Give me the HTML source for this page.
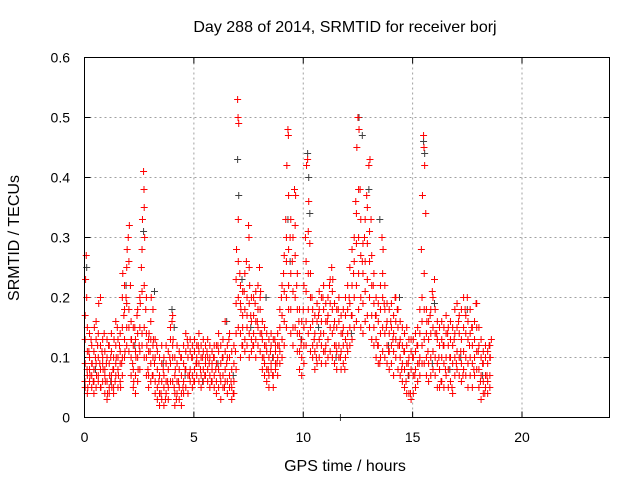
<!DOCTYPE html>
<html><head><meta charset="utf-8"><style>
body{margin:0;background:#fff;}
svg text{font-family:"Liberation Sans",sans-serif;font-size:14px;fill:#000;}
svg text.big{font-size:16px;}
</style></head><body>
<svg id="chart" width="640" height="480" xmlns="http://www.w3.org/2000/svg">
<rect width="640" height="480" fill="#fff"/>
<text class="big" x="345" y="32" text-anchor="middle">Day 288 of 2014, SRMTID for receiver borj</text>
<text class="big" x="345" y="471" text-anchor="middle">GPS time / hours</text>
<text class="big" transform="translate(19,238) rotate(-90)" text-anchor="middle">SRMTID / TECUs</text>
<g id="grid"></g>
<g id="ticks"></g>
<g id="gray"></g>
<g id="red"></g>
<rect x="84.5" y="57.5" width="525" height="360" fill="none" stroke="#000" stroke-width="1"/>
</svg>
<script>
const xTicks=[0,5,10,15,20];
const yTicks=[0,0.1,0.2,0.3,0.4,0.5,0.6];
const yTickLabels=["0","0.1","0.2","0.3","0.4","0.5","0.6"];
const redPts=[
[0.02,0.06],[0.05,0.23],[0.08,0.27],[0.1,0.2],[0.12,0.08],[0.15,0.05],[0.2,0.11],[0.25,0.07],[0.3,0.13],[0.35,0.09],[0.4,0.06],[0.45,0.15],[0.5,0.1],[0.55,0.07],[0.6,0.12],[0.65,0.19],[0.7,0.09],[0.75,0.05],[0.8,0.11],[0.85,0.08],[0.9,0.14],[0.95,0.06],[1.0,0.09],[1.05,0.04],[1.1,0.12],[1.15,0.07],[1.2,0.1],[1.25,0.05],[1.3,0.08],[1.35,0.13],[1.4,0.06],[1.45,0.1],[1.5,0.15],[1.55,0.07],[1.6,0.12],[1.65,0.05],[1.7,0.09],[1.75,0.24],[1.8,0.17],[1.85,0.11],[1.9,0.2],[1.95,0.28],[2.0,0.3],[2.05,0.32],[2.1,0.22],[2.15,0.13],[2.2,0.09],[2.25,0.06],[2.3,0.15],[2.35,0.1],[2.4,0.17],[2.45,0.08],[2.5,0.12],[2.55,0.19],[2.6,0.25],[2.65,0.33],[2.7,0.41],[2.72,0.38],[2.75,0.3],[2.8,0.18],[2.85,0.12],[2.9,0.08],[2.95,0.14],[3.0,0.11],[3.05,0.2],[3.1,0.07],[3.15,0.13],[3.2,0.09],[3.3,0.12],[3.4,0.06],[3.5,0.04],[3.6,0.08],[3.7,0.03],[3.8,0.06],[3.9,0.1],[4.0,0.16],[4.05,0.13],[4.1,0.05],[4.15,0.08],[4.2,0.03],[4.3,0.06],[4.4,0.1],[4.5,0.05],[4.6,0.08],[4.7,0.13],[4.8,0.07],[4.9,0.1],[5.0,0.06],[5.1,0.09],[5.2,0.12],[5.3,0.08],[5.4,0.1],[5.5,0.07],[5.6,0.11],[5.7,0.09],[5.8,0.06],[5.9,0.1],[6.0,0.08],[6.1,0.12],[6.2,0.07],[6.3,0.1],[6.4,0.05],[6.5,0.09],[6.6,0.13],[6.7,0.06],[6.8,0.04],[6.9,0.11],[6.95,0.28],[7.0,0.53],[7.02,0.5],[7.05,0.49],[7.1,0.24],[7.15,0.18],[7.2,0.12],[7.3,0.21],[7.4,0.26],[7.5,0.32],[7.52,0.3],[7.55,0.22],[7.6,0.17],[7.7,0.12],[7.8,0.19],[7.9,0.16],[8.0,0.25],[8.05,0.21],[8.1,0.14],[8.2,0.1],[8.3,0.12],[8.4,0.08],[8.5,0.11],[8.6,0.07],[8.7,0.13],[8.8,0.09],[8.9,0.12],[9.0,0.2],[9.1,0.24],[9.2,0.33],[9.25,0.42],[9.3,0.48],[9.32,0.47],[9.4,0.3],[9.5,0.26],[9.6,0.38],[9.65,0.37],[9.7,0.22],[9.8,0.16],[9.9,0.12],[10.0,0.18],[10.1,0.3],[10.15,0.42],[10.2,0.43],[10.25,0.36],[10.3,0.29],[10.4,0.2],[10.5,0.13],[10.6,0.1],[10.7,0.17],[10.8,0.14],[10.9,0.2],[11.0,0.11],[11.1,0.16],[11.2,0.22],[11.3,0.25],[11.35,0.23],[11.4,0.15],[11.5,0.12],[11.6,0.18],[11.7,0.1],[11.8,0.14],[11.9,0.08],[12.0,0.12],[12.1,0.2],[12.2,0.17],[12.3,0.24],[12.4,0.36],[12.45,0.45],[12.5,0.5],[12.55,0.48],[12.6,0.38],[12.7,0.26],[12.8,0.3],[12.9,0.37],[13.0,0.42],[13.05,0.43],[13.1,0.33],[13.2,0.22],[13.3,0.17],[13.4,0.12],[13.5,0.09],[13.6,0.3],[13.65,0.28],[13.7,0.19],[13.8,0.15],[13.9,0.11],[14.0,0.16],[14.1,0.13],[14.2,0.2],[14.3,0.18],[14.4,0.12],[14.5,0.08],[14.6,0.11],[14.7,0.06],[14.8,0.09],[14.9,0.04],[15.0,0.1],[15.1,0.07],[15.2,0.12],[15.3,0.09],[15.4,0.28],[15.45,0.37],[15.5,0.47],[15.52,0.45],[15.55,0.42],[15.6,0.34],[15.65,0.16],[15.7,0.11],[15.8,0.17],[15.9,0.21],[16.0,0.23],[16.1,0.14],[16.2,0.1],[16.3,0.06],[16.4,0.12],[16.5,0.08],[16.6,0.14],[16.7,0.1],[16.8,0.05],[16.9,0.13],[17.0,0.09],[17.1,0.16],[17.2,0.11],[17.3,0.07],[17.4,0.18],[17.5,0.2],[17.6,0.12],[17.7,0.15],[17.8,0.08],[17.9,0.19],[18.0,0.11],[18.1,0.06],[18.2,0.09],[18.3,0.04],[18.4,0.07],[18.5,0.12],[18.55,0.1],[18.6,0.13]
];
// dense clusters: [time, value, value, ...]
const redClusters=[
[0.03,0.05,0.09,0.13,0.17],[0.13,0.07,0.11,0.04,0.15],[0.23,0.06,0.1,0.08,0.14],[0.33,0.05,0.12,0.09,0.07],[0.43,0.08,0.04,0.11,0.06],[0.53,0.09,0.13,0.05,0.16],[0.63,0.07,0.1,0.14,0.06],[0.73,0.08,0.12,0.2,0.05],[0.83,0.06,0.1,0.13,0.09],[0.93,0.04,0.08,0.11,0.07],
[1.03,0.06,0.1,0.03,0.13],[1.13,0.05,0.09,0.12,0.04],[1.23,0.07,0.11,0.06,0.14],[1.33,0.04,0.08,0.1,0.05],[1.43,0.07,0.12,0.09,0.16],[1.53,0.05,0.1,0.13,0.08],[1.63,0.09,0.06,0.14,0.11],[1.73,0.1,0.15,0.07,0.2],[1.83,0.13,0.18,0.22,0.1],[1.93,0.15,0.12,0.25,0.19],
[2.03,0.18,0.26,0.15,0.11],[2.13,0.1,0.16,0.07,0.13],[2.23,0.08,0.12,0.05,0.15],[2.33,0.07,0.11,0.04,0.13],[2.43,0.1,0.14,0.06,0.18],[2.53,0.11,0.15,0.08,0.2],[2.63,0.14,0.21,0.12,0.28],[2.73,0.15,0.22,0.1,0.35],[2.83,0.1,0.14,0.07,0.2],[2.93,0.07,0.11,0.13,0.05],
[3.03,0.09,0.13,0.06,0.16],[3.13,0.1,0.07,0.12,0.18],[3.23,0.06,0.1,0.13,0.04],[3.33,0.05,0.08,0.11,0.03],[3.43,0.04,0.07,0.1,0.02],[3.53,0.06,0.09,0.03,0.12],[3.63,0.05,0.02,0.1,0.07],[3.73,0.06,0.09,0.04,0.12],[3.83,0.08,0.05,0.11,0.03],[3.93,0.09,0.13,0.06,0.15],
[4.03,0.1,0.06,0.12,0.17],[4.13,0.07,0.04,0.1,0.02],[4.23,0.06,0.04,0.09,0.12],[4.33,0.05,0.08,0.03,0.11],[4.43,0.07,0.04,0.1,0.02],[4.53,0.06,0.09,0.12,0.04],[4.63,0.08,0.05,0.11,0.14],[4.73,0.07,0.1,0.04,0.12],[4.83,0.08,0.11,0.06,0.13],[4.93,0.07,0.1,0.12,0.05],
[5.03,0.08,0.11,0.06,0.13],[5.13,0.07,0.1,0.12,0.09],[5.23,0.09,0.06,0.11,0.14],[5.33,0.07,0.1,0.12,0.05],[5.43,0.08,0.11,0.06,0.13],[5.53,0.09,0.07,0.12,0.1],[5.63,0.08,0.06,0.1,0.13],[5.73,0.07,0.1,0.05,0.12],[5.83,0.08,0.11,0.06,0.09],[5.93,0.07,0.1,0.12,0.05],
[6.03,0.06,0.09,0.12,0.04],[6.13,0.08,0.11,0.05,0.14],[6.23,0.06,0.09,0.12,0.03],[6.33,0.07,0.1,0.05,0.13],[6.43,0.08,0.06,0.11,0.16],[6.53,0.06,0.1,0.04,0.12],[6.63,0.07,0.05,0.1,0.14],[6.73,0.05,0.08,0.03,0.11],[6.83,0.06,0.09,0.04,0.12],[6.93,0.08,0.14,0.19,0.23],
[7.03,0.15,0.2,0.26,0.33],[7.13,0.14,0.19,0.22,0.1],[7.23,0.12,0.17,0.21,0.15],[7.33,0.13,0.18,0.24,0.11],[7.43,0.15,0.2,0.17,0.12],[7.53,0.14,0.19,0.25,0.1],[7.63,0.13,0.16,0.2,0.11],[7.73,0.14,0.17,0.12,0.2],[7.83,0.13,0.16,0.1,0.21],[7.93,0.15,0.18,0.22,0.12],
[8.03,0.14,0.18,0.11,0.2],[8.13,0.1,0.13,0.16,0.08],[8.23,0.09,0.12,0.07,0.15],[8.33,0.08,0.11,0.06,0.14],[8.43,0.1,0.07,0.13,0.05],[8.53,0.09,0.12,0.08,0.14],[8.63,0.1,0.07,0.13,0.05],[8.73,0.09,0.12,0.08,0.11],[8.83,0.1,0.14,0.07,0.12],[8.93,0.11,0.15,0.09,0.18],
[9.03,0.13,0.17,0.1,0.22],[9.13,0.16,0.21,0.12,0.27],[9.23,0.2,0.26,0.15,0.3],[9.33,0.22,0.28,0.37,0.18],[9.43,0.18,0.24,0.33,0.14],[9.53,0.15,0.21,0.3,0.12],[9.63,0.2,0.27,0.32,0.15],[9.73,0.14,0.18,0.11,0.24],[9.83,0.11,0.14,0.08,0.18],[9.93,0.1,0.13,0.16,0.07],
[10.03,0.12,0.15,0.22,0.09],[10.13,0.16,0.21,0.26,0.12],[10.23,0.18,0.24,0.31,0.14],[10.33,0.15,0.2,0.24,0.11],[10.43,0.12,0.16,0.1,0.18],[10.53,0.11,0.14,0.08,0.17],[10.63,0.12,0.16,0.09,0.19],[10.73,0.13,0.18,0.1,0.21],[10.83,0.12,0.16,0.2,0.09],[10.93,0.14,0.18,0.11,0.22],
[11.03,0.12,0.16,0.09,0.19],[11.13,0.13,0.17,0.2,0.1],[11.23,0.15,0.19,0.23,0.11],[11.33,0.14,0.18,0.21,0.1],[11.43,0.12,0.16,0.09,0.19],[11.53,0.11,0.15,0.08,0.18],[11.63,0.12,0.16,0.1,0.2],[11.73,0.11,0.14,0.08,0.17],[11.83,0.12,0.15,0.09,0.18],[11.93,0.13,0.17,0.1,0.2],
[12.03,0.14,0.18,0.11,0.22],[12.13,0.15,0.19,0.12,0.25],[12.23,0.17,0.22,0.13,0.28],[12.33,0.2,0.26,0.3,0.15],[12.43,0.22,0.29,0.34,0.16],[12.53,0.24,0.3,0.38,0.18],[12.63,0.2,0.27,0.33,0.15],[12.73,0.19,0.24,0.29,0.14],[12.83,0.21,0.26,0.33,0.16],[12.93,0.23,0.29,0.35,0.17],
[13.03,0.2,0.26,0.31,0.15],[13.13,0.17,0.22,0.27,0.13],[13.23,0.15,0.19,0.24,0.12],[13.33,0.13,0.17,0.2,0.1],[13.43,0.12,0.16,0.19,0.09],[13.53,0.14,0.18,0.22,0.1],[13.63,0.15,0.2,0.24,0.11],[13.73,0.14,0.18,0.22,0.1],[13.83,0.12,0.16,0.19,0.09],[13.93,0.11,0.14,0.18,0.08],
[14.03,0.12,0.15,0.19,0.09],[14.13,0.11,0.14,0.17,0.07],[14.23,0.13,0.16,0.2,0.1],[14.33,0.12,0.15,0.18,0.08],[14.43,0.1,0.13,0.16,0.07],[14.53,0.09,0.12,0.15,0.06],[14.63,0.08,0.11,0.14,0.05],[14.73,0.09,0.12,0.04,0.15],[14.83,0.07,0.1,0.13,0.04],[14.93,0.08,0.11,0.03,0.13],
[15.03,0.07,0.1,0.13,0.04],[15.13,0.08,0.11,0.05,0.14],[15.23,0.09,0.12,0.06,0.15],[15.33,0.1,0.14,0.07,0.18],[15.43,0.12,0.16,0.2,0.09],[15.53,0.13,0.18,0.24,0.09],[15.63,0.1,0.14,0.07,0.18],[15.73,0.09,0.13,0.06,0.16],[15.83,0.1,0.14,0.07,0.18],[15.93,0.11,0.15,0.08,0.2],
[16.03,0.1,0.14,0.07,0.18],[16.13,0.09,0.13,0.05,0.16],[16.23,0.08,0.12,0.05,0.15],[16.33,0.1,0.13,0.06,0.16],[16.43,0.09,0.12,0.05,0.15],[16.53,0.1,0.14,0.07,0.17],[16.63,0.08,0.12,0.05,0.15],[16.73,0.1,0.13,0.06,0.16],[16.83,0.09,0.12,0.04,0.15],[16.93,0.1,0.14,0.07,0.18],
[17.03,0.11,0.15,0.08,0.19],[17.13,0.1,0.14,0.07,0.17],[17.23,0.09,0.13,0.06,0.18],[17.33,0.11,0.15,0.08,0.2],[17.43,0.1,0.14,0.07,0.17],[17.53,0.09,0.13,0.05,0.16],[17.63,0.1,0.14,0.07,0.18],[17.73,0.09,0.12,0.05,0.15],[17.83,0.1,0.13,0.07,0.16],[17.93,0.11,0.15,0.08,0.19],
[18.03,0.08,0.12,0.05,0.15],[18.13,0.07,0.1,0.03,0.13],[18.23,0.06,0.09,0.04,0.11],[18.33,0.07,0.1,0.05,0.12],[18.43,0.06,0.09,0.04,0.11],[18.53,0.07,0.1,0.05,0.12]
];
const grayPts=[
[0.1,0.25],[1.9,0.22],[2.7,0.31],[4.0,0.18],[4.1,0.15],[7.0,0.43],[7.05,0.37],[7.2,0.23],[9.3,0.33],[9.4,0.26],[10.2,0.44],[10.25,0.4],[10.3,0.34],[11.7,0.0],[12.55,0.5],[12.7,0.47],[13.0,0.38],[13.5,0.33],[15.5,0.46],[15.55,0.44],[16.0,0.19],[6.5,0.16],[3.2,0.21],[8.3,0.2],[14.4,0.2],[17.5,0.18],
[0.5,0.08],[1.2,0.06],[2.3,0.12],[3.6,0.09],[4.6,0.07],[5.4,0.06],[6.1,0.09],[6.8,0.07],[7.6,0.15],[8.6,0.1],[9.9,0.13],[10.7,0.15],[11.5,0.1],[12.2,0.14],[13.9,0.12],[14.8,0.07],[15.9,0.09],[16.7,0.08],[17.2,0.1],[18.2,0.07]
];
const X0=84.5,XW=525,XMAX=24,Y0=417.5,YH=360,YMAX=0.6;
const xs=v=>X0+v/XMAX*XW;
const ys=v=>Y0-v/YMAX*YH;
const NS="http://www.w3.org/2000/svg";
function mk(tag,attrs,parent){const e=document.createElementNS(NS,tag);for(const k in attrs)e.setAttribute(k,attrs[k]);parent.appendChild(e);return e;}
const grid=document.getElementById('grid'),ticks=document.getElementById('ticks');
xTicks.forEach(t=>{
  const x=xs(t);
  if(t>0){const g=mk('line',{x1:x,x2:x,y1:57.5,y2:417.5,stroke:'#a0a0a0','stroke-dasharray':'2,3'},grid);
  
  }
  mk('line',{x1:x,x2:x,y1:417.5,y2:411.5,stroke:'#000'},ticks);
  mk('line',{x1:x,x2:x,y1:57.5,y2:63.5,stroke:'#000'},ticks);
  const tx=mk('text',{x:x,y:442,'text-anchor':'middle'},ticks);tx.textContent=t;
  
  
});
yTicks.forEach((t,i)=>{
  const y=ys(t);
  if(i>0&&i<yTicks.length-1){const g=mk('line',{x1:84.5,x2:609.5,y1:y,y2:y,stroke:'#a0a0a0','stroke-dasharray':'2,3'},grid);
  
  }
  mk('line',{x1:84.5,x2:90.5,y1:y,y2:y,stroke:'#000'},ticks);
  mk('line',{x1:603.5,x2:609.5,y1:y,y2:y,stroke:'#000'},ticks);
  const tx=mk('text',{x:70,y:y+5,'text-anchor':'end'},ticks);tx.textContent=yTickLabels[i];
  
  
});
function plus(g,t,v,color){
  const x=xs(t),y=ys(v);
  const e=mk('path',{d:`M${x-3.5},${y}H${x+3.5}M${x},${y-3.5}V${y+3.5}`,stroke:color,'stroke-width':1,fill:'none'},g);
  
  
}
const gg=document.getElementById('gray'),rg=document.getElementById('red');
grayPts.forEach(p=>plus(gg,p[0],p[1],'#404040'));
redClusters.forEach(c=>{for(let i=1;i<c.length;i++)plus(rg,c[0],c[i],'#ff0000');});
redPts.forEach(p=>plus(rg,p[0],p[1],'#ff0000'));
</script>
</body></html>
